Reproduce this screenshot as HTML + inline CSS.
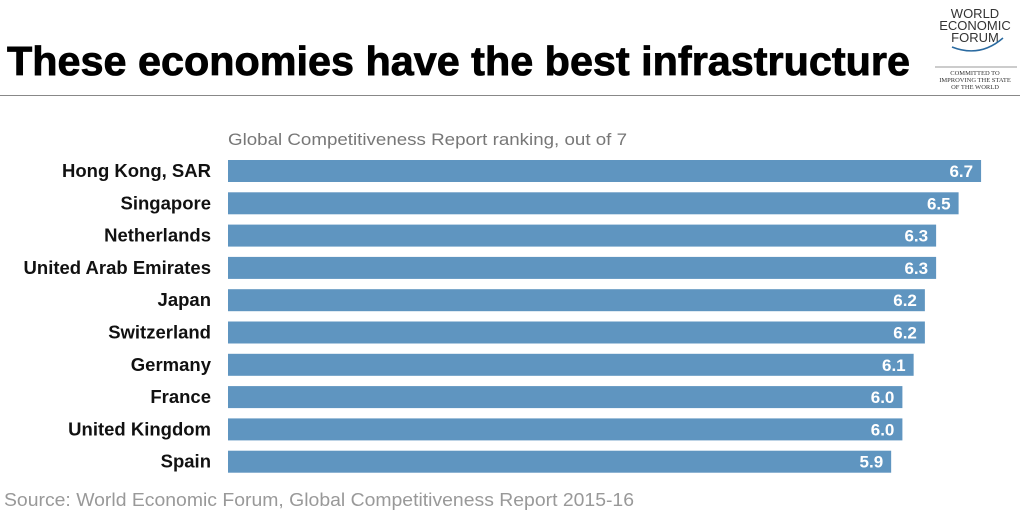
<!DOCTYPE html>
<html><head><meta charset="utf-8"><style>
body{margin:0;width:1024px;height:512px;background:#fff;overflow:hidden;font-family:"Liberation Sans",sans-serif;}
</style></head><body>
<svg width="1024" height="512" xmlns="http://www.w3.org/2000/svg">
<text x="7" y="75" font-size="41" font-weight="bold" fill="#000" stroke="#000" stroke-width="0.8" textLength="903" lengthAdjust="spacingAndGlyphs">These economies have the best infrastructure</text>
<line x1="0" y1="95.5" x2="1020" y2="95.5" stroke="#888" stroke-width="1"/>
<g font-family="Liberation Sans,sans-serif" fill="#333" text-anchor="middle">
<text x="975" y="18" font-size="13">WORLD</text>
<text x="975" y="30" font-size="13">ECONOMIC</text>
<text x="975" y="42" font-size="13">FORUM</text>
<path d="M952 47 Q980 58 1003 38" stroke="#2a6aa0" stroke-width="1.5" fill="none"/>
<line x1="935" y1="67" x2="1017" y2="67" stroke="#777" stroke-width="0.8"/>
<text x="975" y="75" font-size="6.5" font-family="Liberation Serif,serif">COMMITTED TO</text>
<text x="975" y="82" font-size="6.5" font-family="Liberation Serif,serif">IMPROVING THE STATE</text>
<text x="975" y="89" font-size="6.5" font-family="Liberation Serif,serif">OF THE WORLD</text>
</g>
<text x="228" y="145" font-size="17" fill="#777" textLength="399" lengthAdjust="spacingAndGlyphs">Global Competitiveness Report ranking, out of 7</text>
<g id="bars"></g>
<text x="4" y="506" font-size="18" fill="#999" textLength="630" lengthAdjust="spacingAndGlyphs">Source: World Economic Forum, Global Competitiveness Report 2015-16</text>
</svg>
<script>
const categories=["Hong Kong, SAR","Singapore","Netherlands","United Arab Emirates","Japan","Switzerland","Germany","France","United Kingdom","Spain"];
const values=[6.7,6.5,6.3,6.3,6.2,6.2,6.1,6.0,6.0,5.9];
const valueLabels=["6.7","6.5","6.3","6.3","6.2","6.2","6.1","6.0","6.0","5.9"];
const NS="http://www.w3.org/2000/svg";
const x0=228,k=112.4;
function xs(v){return x0+v*k;}
function ys(i){return 160+i*32.3;}
const g=document.getElementById('bars');
categories.forEach((c,i)=>{
  const r=document.createElementNS(NS,'rect');
  r.setAttribute('x',x0);r.setAttribute('y',ys(i));
  r.setAttribute('width',xs(values[i])-x0);r.setAttribute('height',22);
  r.setAttribute('fill','#5f95c0');
  
  
  g.appendChild(r);
  const t=document.createElementNS(NS,'text');
  t.setAttribute('x',211);t.setAttribute('y',ys(i)+17);
  t.setAttribute('text-anchor','end');t.setAttribute('font-size','18.5');
  t.setAttribute('font-weight','bold');
  t.setAttribute('fill','#111');t.textContent=c;
  
  
  g.appendChild(t);
  const v=document.createElementNS(NS,'text');
  v.setAttribute('x',xs(values[i])-8);v.setAttribute('y',ys(i)+17);
  v.setAttribute('text-anchor','end');v.setAttribute('font-size','17');
  v.setAttribute('font-weight','bold');v.setAttribute('fill','#fff');
  v.textContent=valueLabels[i];
  
  
  g.appendChild(v);
});
</script>
</body></html>
